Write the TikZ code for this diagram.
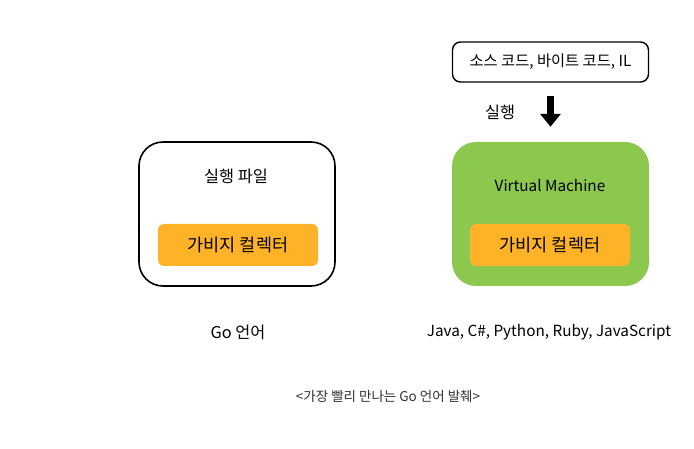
\documentclass[tikz,border=0pt]{standalone}
\usepackage{fontspec}
\setmainfont{Noto Sans CJK KR}
\usetikzlibrary{arrows.meta}
\definecolor{vmgreen}{HTML}{8CC84E}
\definecolor{gcorange}{HTML}{FDB227}
\tikzset{
  outerbox/.style={draw=black, line width=1.6pt, rounded corners=24pt, minimum width=196pt, minimum height=144pt},
  vmbox/.style={fill=vmgreen, rounded corners=24pt, minimum width=197pt, minimum height=144pt},
  gcbox/.style={fill=gcorange, rounded corners=6pt, minimum width=160pt, minimum height=42pt, font=\fontsize{17.5pt}{19pt}\selectfont},
  srcbox/.style={draw=black, line width=1.4pt, rounded corners=8pt, minimum width=196pt, minimum height=40pt, font=\fontsize{15.3pt}{17pt}\selectfont},
  label/.style={font=\fontsize{16.3pt}{18pt}\selectfont},
  latin/.style={font=\fontsize{15.3pt}{17pt}\selectfont},
}
\begin{document}
\begin{tikzpicture}[x=1pt, y=-1pt]
  \useasboundingbox (0,0) rectangle (694,449);

  % Go 언어 쪽: 실행 파일 안에 가비지 컬렉터
  \node[outerbox] (exe) at (237,214) {};
  \node[label] (exelabel) at (236,176) {실행 파일};
  \node[gcbox] (gcleft) at (238,245) {가비지 컬렉터};

  % VM 쪽: 소스 코드를 받아 가상 머신이 실행
  \node[srcbox] (src) at (550.5,62) {소스 코드, 바이트 코드, IL};
  \node[vmbox] (vm) at (550.5,214) {};
  \node[latin] (vmlabel) at (550,186) {Virtual Machine};
  \node[gcbox] (gcright) at (550,245) {가비지 컬렉터};

  % 실행 화살표
  \draw[-{Triangle[width=20pt,length=13pt]}, line width=7pt] ([yshift=-13pt]src.south) -- ([yshift=15pt]vm.north);
  \node[label] (run) at (500,112) {실행};

  % 언어 이름
  \node[label] (golang) at (238,332) {Go 언어};
  \node[latin] (vmlang) at (549,332) {Java, C\#, Python, Ruby, JavaScript};

  % 출처
  \node[font=\fontsize{13.5pt}{15pt}\selectfont, text=black!80] (source) at (388,396) {<가장 빨리 만나는 Go 언어 발췌>};
\end{tikzpicture}
\end{document}
